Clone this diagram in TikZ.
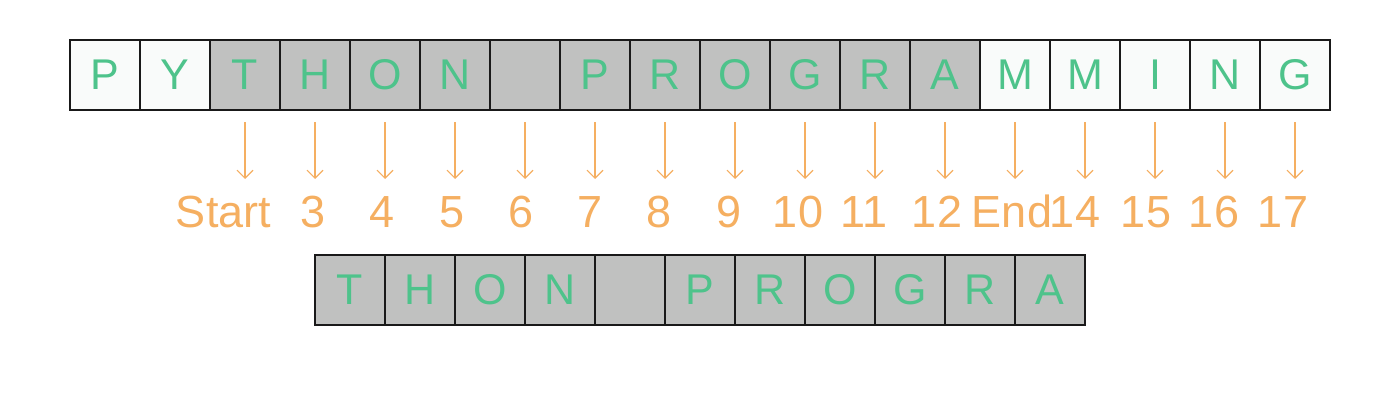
\documentclass[tikz,border=0pt]{standalone}
\usepackage{fontspec}
\setmainfont{Liberation Sans}
\usetikzlibrary{arrows.meta}
\definecolor{cellgray}{HTML}{C0C1C0}
\definecolor{cellwhite}{HTML}{F9FBFA}
\definecolor{lettergreen}{HTML}{4EC38B}
\definecolor{idxorange}{HTML}{F5AF61}
\tikzset{
  cell/.style={draw=black!90, line width=1.3pt, minimum width=70pt, minimum height=70pt, inner sep=0pt, outer sep=0pt, text=lettergreen, font=\fontsize{43}{43}\selectfont},
  graycell/.style={cell, fill=cellgray},
  whitecell/.style={cell, fill=cellwhite},
  idx/.style={text=idxorange, font=\fontsize{45}{45}\selectfont, anchor=base, inner sep=0pt},
  pointer/.style={draw=idxorange, line width=1.1pt, -{Straight Barb[length=8pt,width=16pt,line width=1.1pt]}}
}
\begin{document}
\begin{tikzpicture}[x=1pt,y=-1pt]
\useasboundingbox (0,0) rectangle (1400,420);
% top row
\foreach \L [count=\i from 0] in {P,Y,T,H,O,N,{},P,R,O,G,R,A,M,M,I,N,G}{
  \ifnum\i<2
    \node[whitecell] (t\i) at ({105+70*\i},75) {\L};
  \else\ifnum\i>12
    \node[whitecell] (t\i) at ({105+70*\i},75) {\L};
  \else
    \node[graycell] (t\i) at ({105+70*\i},75) {\L};
  \fi\fi
}
% bottom row
\foreach \L [count=\i from 0] in {T,H,O,N,{},P,R,O,G,R,A}{
  \node[graycell] (b\i) at ({350+70*\i},290) {\L};
}
% index labels
\foreach \t/\xx/\n in {Start/223.5/2, 3/313/3, 4/382/4, 5/452/5, 6/521/6, 7/590/7, 8/659/8, 9/729/9, 10/798/10, 11/864/11, 12/937/12, End/1012/13, 14/1075/14, 15/1146/15, 16/1214/16, 17/1283/17}{
  \node[idx] (l\n) at (\xx,227) {\t};
  \coordinate (s\n) at ({105+70*\n},122);
  \coordinate (e\n) at ({105+70*\n},179);
  \draw[pointer] (s\n) -- (e\n);
}
\end{tikzpicture}
\end{document}
